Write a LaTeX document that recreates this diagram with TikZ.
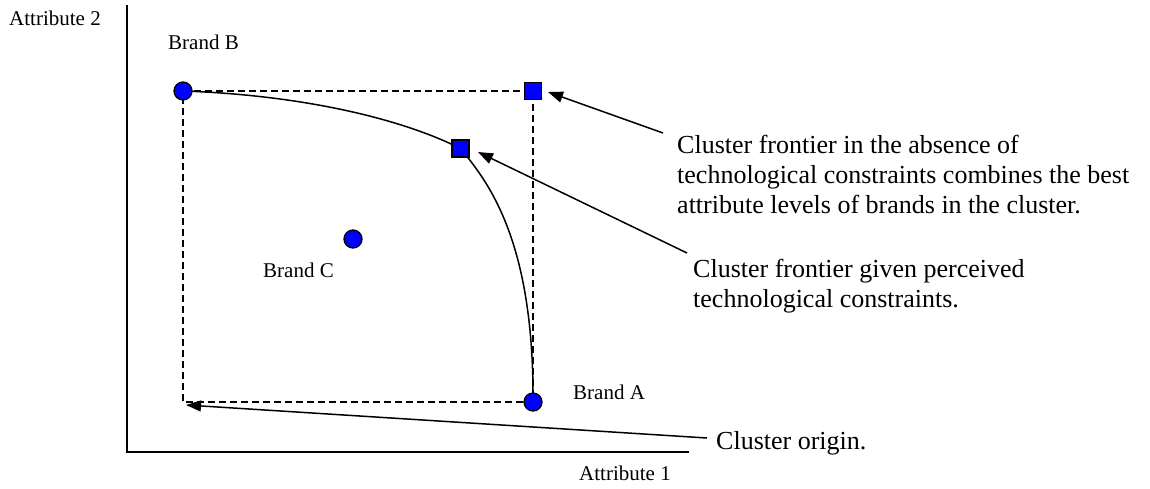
\documentclass[tikz,border=0pt]{standalone}
\usepackage{fontspec}
\setmainfont{Liberation Serif}
\usetikzlibrary{arrows.meta,backgrounds}

\definecolor{markblue}{RGB}{0,0,255}

\tikzset{
  brandpt/.style={circle, draw=black, fill=markblue, line width=1.3pt,
                  minimum size=18pt, inner sep=0pt},
  frontpt/.style={rectangle, draw=black, fill=markblue, line width=1.3pt,
                  minimum size=17pt, inner sep=0pt},
  smalllabel/.style={anchor=base west, inner sep=0pt, font=\fontsize{21}{24}\selectfont},
  biglabel/.style={anchor=north west, inner sep=0pt, align=left,
                   font=\fontsize{26}{30}\selectfont},
  axisline/.style={line width=2pt},
  guide/.style={dashed, dash pattern=on 7pt off 4pt, line width=1.3pt},
  frontier/.style={line width=1.5pt},
  pointer/.style={line width=1.5pt, -{Triangle[length=15pt,width=11pt]}}
}

\begin{document}
\begin{tikzpicture}[x=1pt, y=-1pt]
  \useasboundingbox (0,0) rectangle (1150,488);

  % axes
  \coordinate (ytop) at (127,5);
  \coordinate (xend) at (689,452);
  \draw[axisline] (ytop) |- (xend);
  \node[smalllabel] (ylab) at (9,25) {Attribute 2};
  \node[smalllabel] (xlab) at (579,480) {Attribute 1};

  % brands and frontier points
  \node[brandpt] (B) at (183,91) {};
  \node[brandpt] (A) at (533,402) {};
  \node[brandpt] (C) at (353,239) {};
  \node[frontpt] (S1) at (533,91) {};
  \node[frontpt] (S2) at (460.5,148.5) {};
  \coordinate (O) at (183,402);

  \node[smalllabel] (Blab) at (168,49) {Brand B};
  \node[smalllabel] (Clab) at (263,277) {Brand C};
  \node[smalllabel] (Alab) at (573,399) {Brand A};

  % dashed box and perceived frontier, behind the markers
  \begin{scope}[on background layer]
    \draw[guide] (B.center) -- (S1.center) -- (A.center) -- (O) -- cycle;
    \draw[frontier] (B.center) .. controls (300,95) and (400,118) .. (S2.center);
    \draw[frontier] (S2.center) .. controls (488,182) and (534,240) .. (A.center);
  \end{scope}

  % explanations
  \node[biglabel] (t1) at (677,135) {Cluster frontier in the absence of\\
    technological constraints combines the best\\
    attribute levels of brands in the cluster.};
  \node[biglabel] (t2) at (693,259) {Cluster frontier given perceived\\
    technological constraints.};
  \node[anchor=base west, inner sep=0pt, font=\fontsize{26}{30}\selectfont]
    (t3) at (716,449) {Cluster origin.};

  \coordinate (p1) at (663,133);
  \coordinate (p2) at (687,253);
  \coordinate (p3) at (707,438);
  \coordinate (h1) at (548,92);
  \coordinate (h2) at (478,152);
  \coordinate (h3) at (186,405);
  \draw[pointer] (p1) -- (h1);
  \draw[pointer] (p2) -- (h2);
  \draw[pointer] (p3) -- (h3);
\end{tikzpicture}
\end{document}
